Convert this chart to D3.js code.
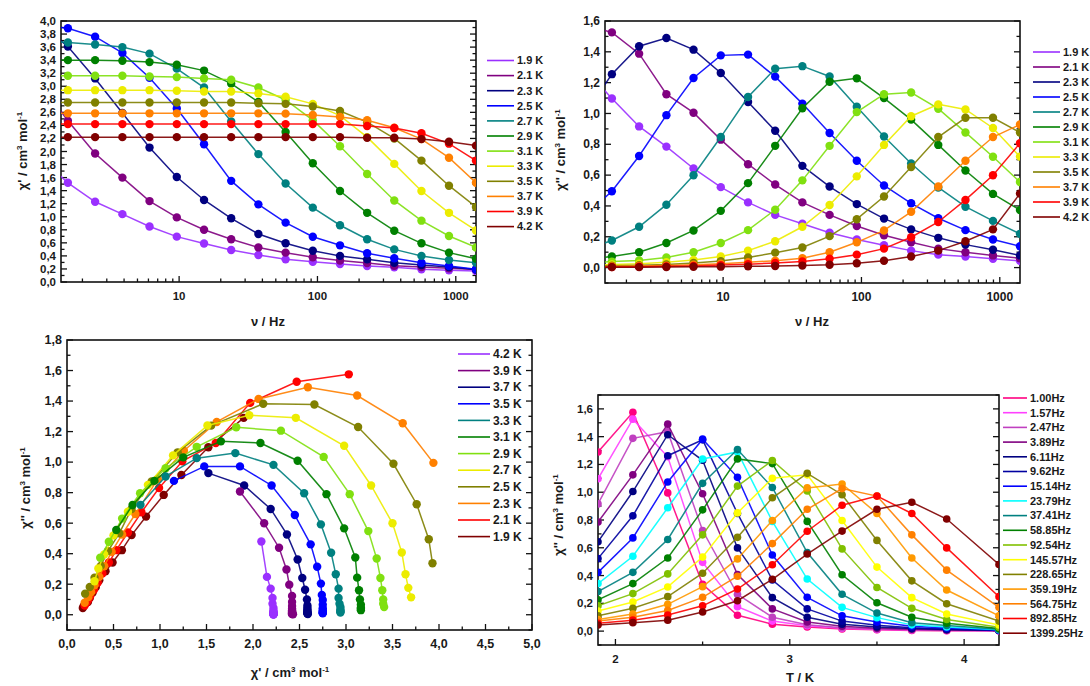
<!DOCTYPE html>
<html><head><meta charset="utf-8">
<script src="https://cdn.jsdelivr.net/npm/d3@7"></script>
<style>
body{margin:0;background:#fff;}
svg text{font-family:"Liberation Sans",Arial,sans-serif;font-weight:bold;fill:#1a1a1a;}
</style></head><body>
<svg id="fig" width="1090" height="686"></svg>
<script>
// Measurement temperatures and ac frequencies
const tempLabels = ["1.9 K","2.1 K","2.3 K","2.5 K","2.7 K","2.9 K","3.1 K","3.3 K","3.5 K","3.7 K","3.9 K","4.2 K"];
const temps = [1.9, 2.1, 2.3, 2.5, 2.7, 2.9, 3.1, 3.3, 3.5, 3.7, 3.9, 4.2];
const freqs = [1.00, 1.57, 2.47, 3.89, 6.11, 9.62, 15.14, 23.79, 37.41, 58.85, 92.54, 145.57, 228.65, 359.19, 564.75, 892.85, 1399.25];
const freqLabels = ["1.00Hz","1.57Hz","2.47Hz","3.89Hz","6.11Hz","9.62Hz","15.14Hz","23.79Hz","37.41Hz","58.85Hz","92.54Hz","145.57Hz","228.65Hz","359.19Hz","564.75Hz","892.85Hz","1399.25Hz"];

// In-phase susceptibility chi' (cm3 mol-1), one row per temperature, one value per frequency
const chiReal = [
  [1.90, 1.52, 1.23, 1.04, 0.85, 0.695, 0.59, 0.49, 0.414, 0.347, 0.31, 0.276, 0.245, 0.225, 0.195, 0.18, 0.17],
  [3.03, 2.47, 1.97, 1.60, 1.24, 0.99, 0.80, 0.655, 0.53, 0.45, 0.38, 0.33, 0.29, 0.25, 0.23, 0.21, 0.19],
  [3.94, 3.61, 3.12, 2.59, 2.06, 1.61, 1.257, 0.976, 0.735, 0.593, 0.48, 0.40, 0.347, 0.296, 0.26, 0.23, 0.19],
  [3.93, 3.89, 3.76, 3.51, 3.13, 2.66, 2.11, 1.55, 1.19, 0.91, 0.694, 0.562, 0.44, 0.363, 0.296, 0.245, 0.195],
  [3.70, 3.67, 3.64, 3.60, 3.50, 3.27, 2.98, 2.46, 1.96, 1.51, 1.14, 0.87, 0.655, 0.50, 0.40, 0.337, 0.296],
  [3.41, 3.40, 3.40, 3.39, 3.37, 3.33, 3.24, 3.04, 2.76, 2.30, 1.82, 1.395, 1.06, 0.786, 0.593, 0.45, 0.357],
  [3.16, 3.16, 3.16, 3.16, 3.15, 3.14, 3.12, 3.10, 2.98, 2.79, 2.48, 2.08, 1.655, 1.25, 0.94, 0.705, 0.53],
  [2.94, 2.94, 2.94, 2.94, 2.94, 2.93, 2.92, 2.92, 2.89, 2.84, 2.73, 2.55, 2.22, 1.81, 1.395, 1.06, 0.79],
  [2.75, 2.75, 2.75, 2.75, 2.75, 2.75, 2.75, 2.75, 2.74, 2.73, 2.69, 2.62, 2.45, 2.20, 1.86, 1.476, 1.15],
  [2.59, 2.585, 2.585, 2.585, 2.585, 2.585, 2.585, 2.585, 2.585, 2.58, 2.56, 2.53, 2.48, 2.365, 2.19, 1.905, 1.52],
  [2.43, 2.42, 2.42, 2.42, 2.42, 2.42, 2.42, 2.42, 2.42, 2.42, 2.42, 2.42, 2.39, 2.36, 2.28, 2.12, 1.86],
  [2.22, 2.22, 2.22, 2.22, 2.22, 2.22, 2.22, 2.22, 2.22, 2.22, 2.22, 2.22, 2.21, 2.21, 2.19, 2.15, 2.09]
];

// Out-of-phase susceptibility chi'' (cm3 mol-1)
const chiImag = [
  [1.29, 1.097, 0.916, 0.785, 0.643, 0.522, 0.423, 0.342, 0.285, 0.226, 0.182, 0.145, 0.11, 0.084, 0.072, 0.057, 0.044],
  [1.575, 1.526, 1.388, 1.125, 1.005, 0.83, 0.671, 0.539, 0.423, 0.342, 0.27, 0.21, 0.164, 0.123, 0.10, 0.079, 0.061],
  [0.995, 1.255, 1.436, 1.49, 1.414, 1.263, 1.074, 0.888, 0.66, 0.526, 0.412, 0.318, 0.248, 0.193, 0.149, 0.116, 0.079],
  [0.337, 0.495, 0.724, 0.989, 1.23, 1.377, 1.382, 1.239, 1.064, 0.873, 0.693, 0.533, 0.417, 0.32, 0.243, 0.182, 0.138],
  [0.114, 0.176, 0.265, 0.408, 0.599, 0.847, 1.107, 1.29, 1.307, 1.24, 1.044, 0.851, 0.675, 0.52, 0.395, 0.303, 0.219],
  [0.05, 0.072, 0.10, 0.16, 0.241, 0.368, 0.548, 0.79, 1.034, 1.206, 1.228, 1.10, 0.96, 0.796, 0.63, 0.478, 0.373],
  [0.03, 0.039, 0.046, 0.066, 0.10, 0.16, 0.243, 0.375, 0.566, 0.79, 1.009, 1.125, 1.136, 1.031, 0.877, 0.719, 0.555],
  [0.015, 0.02, 0.025, 0.035, 0.05, 0.072, 0.11, 0.171, 0.265, 0.406, 0.592, 0.796, 0.982, 1.059, 1.026, 0.906, 0.72],
  [0.01, 0.012, 0.015, 0.02, 0.03, 0.042, 0.065, 0.097, 0.13, 0.204, 0.314, 0.461, 0.653, 0.847, 0.972, 0.972, 0.877],
  [0.005, 0.008, 0.01, 0.013, 0.018, 0.025, 0.035, 0.045, 0.061, 0.10, 0.164, 0.241, 0.362, 0.526, 0.693, 0.847, 0.928],
  [0.003, 0.004, 0.006, 0.008, 0.011, 0.016, 0.022, 0.03, 0.04, 0.057, 0.084, 0.123, 0.197, 0.296, 0.439, 0.599, 0.807],
  [0.002, 0.003, 0.003, 0.004, 0.005, 0.006, 0.008, 0.01, 0.013, 0.018, 0.028, 0.044, 0.072, 0.11, 0.171, 0.248, 0.48]
];

// Series colours (1.9 K ... 4.2 K)
const tempColors = ["#9a30ff","#800080","#000080","#0000ff","#008080","#008000","#80e010","#ecec00","#808000","#ff8000","#ff0000","#800000"];
// Cole-Cole panel: legend runs from 4.2 K down to 1.9 K with the palette in the same order
const coleLegend = ["4.2 K","3.9 K","3.7 K","3.5 K","3.3 K","3.1 K","2.9 K","2.7 K","2.5 K","2.3 K","2.1 K","1.9 K"];
const coleColors = tempColors;
const freqColors = ["#ff0080","#ff40ff","#c040c0","#800080","#000080","#0000a0","#0000ff","#00ffff","#008080","#008000","#80c000","#ffff00","#808000","#ff9900","#ff8000","#ff0000","#800000"];

const svg = d3.select("#fig");
const comma = v => d3.format(".1f")(v).replace(".", ",");
let clipId = 0;

function frame(p) {
  const g = svg.append("g");
  const id = "clip" + (clipId++);
  svg.append("clipPath").attr("id", id).append("rect")
    .attr("x", p.x0).attr("y", p.y0).attr("width", p.x1 - p.x0).attr("height", p.y1 - p.y0);
  p.clip = "url(#" + id + ")";
  // inward ticks on left, right and bottom
  const tk = (x1, y1, x2, y2) => g.append("line").attr("x1", x1).attr("y1", y1).attr("x2", x2).attr("y2", y2)
    .attr("stroke", "#111").attr("stroke-width", 1.3);
  p.yMinor.forEach(v => { const y = p.y(v); tk(p.x0, y, p.x0 + 3.5, y); tk(p.x1, y, p.x1 - 3.5, y); });
  p.yMajor.forEach(v => { const y = p.y(v); tk(p.x0, y, p.x0 + 6, y); tk(p.x1, y, p.x1 - 6, y);
    g.append("text").attr("x", p.x0 - 5).attr("y", y).attr("dy", "0.35em").attr("text-anchor", "end")
      .attr("font-size", p.fs || 12).text(comma(v)); });
  p.xMinor.forEach(v => { const x = p.x(v); tk(x, p.y1, x, p.y1 - 3.5); });
  p.xMajor.forEach(v => { const x = p.x(v); tk(x, p.y1, x, p.y1 - 6);
    g.append("text").attr("x", x).attr("y", p.y1 + 18).attr("text-anchor", "middle")
      .attr("font-size", p.fs || 12).text(p.xFmt(v)); });
  g.append("rect").attr("x", p.x0).attr("y", p.y0).attr("width", p.x1 - p.x0).attr("height", p.y1 - p.y0)
    .attr("fill", "none").attr("stroke", "#111").attr("stroke-width", 1.6);
}

function chiTitle(x, y, primes, rotate) {
  const t = svg.append("text").attr("font-size", 13)
    .attr("transform", `translate(${x},${y})` + (rotate ? " rotate(-90)" : "")).attr("text-anchor", "middle");
  t.append("tspan").text("χ" + primes + " / cm");
  t.append("tspan").attr("dy", -5).attr("font-size", 8).text("3");
  t.append("tspan").attr("dy", 5).text(" mol");
  t.append("tspan").attr("dy", -5).attr("font-size", 8).text("-1");
}

function legend(x, y0, step, labels, colors, len, fs) {
  labels.forEach((lab, i) => {
    const y = y0 + i * step;
    svg.append("line").attr("x1", x).attr("x2", x + len).attr("y1", y).attr("y2", y)
      .attr("stroke", colors[i]).attr("stroke-width", 1.6);
    svg.append("text").attr("x", x + len + 3).attr("y", y).attr("dy", "0.35em")
      .attr("font-size", fs).text(lab);
  });
}

function series(p, pts, color, r) {
  const g = svg.append("g").attr("clip-path", p.clip);
  g.append("path").datum(pts)
    .attr("d", d3.line().x(d => p.x(d[0])).y(d => p.y(d[1])))
    .attr("fill", "none").attr("stroke", color).attr("stroke-width", 1.5).attr("stroke-opacity", 0.9);
  g.selectAll("circle").data(pts.filter(d => p.inX(d[0]))).join("circle")
    .attr("cx", d => p.x(d[0])).attr("cy", d => p.y(d[1])).attr("r", r).attr("fill", color);
}

const logMinor = [];
[1, 10, 100, 1000].forEach(dec => d3.range(1, 10).forEach(k => {
  const v = dec * k; if (v >= 1.4 && v <= 1400 && k !== 1) logMinor.push(v);
}));
const fmtLog = v => String(v);
const step = (a, b, s) => d3.range(Math.round((b - a) / s) + 1).map(i => +(a + i * s).toFixed(3));

// Panel a: chi' versus frequency
const pA = { x0: 61, x1: 476, y0: 21, y1: 282 };
pA.x = d3.scaleLog().domain([1.4, 1400]).range([pA.x0, pA.x1]);
pA.y = d3.scaleLinear().domain([0, 4]).range([pA.y1, pA.y0]);
pA.inX = v => v >= 1.4;
Object.assign(pA, { xMajor: [10, 100, 1000], xMinor: logMinor, xFmt: fmtLog,
  yMajor: step(0, 4, 0.2), yMinor: step(0.1, 3.9, 0.2), fs: 11.5 });
frame(pA);
temps.forEach((t, i) => series(pA, freqs.map((f, j) => [f, chiReal[i][j]]), tempColors[i], 4.2));
legend(487, 60.5, 15.1, tempLabels, tempColors, 27, 11);
chiTitle(27, 151, "'", true);
svg.append("text").attr("x", 268).attr("y", 326).attr("text-anchor", "middle").attr("font-size", 13).text("ν / Hz");

// Panel b: chi'' versus frequency
const pB = { x0: 605, x1: 1020, y0: 21, y1: 283 };
pB.x = d3.scaleLog().domain([1.4, 1400]).range([pB.x0, pB.x1]);
pB.y = d3.scaleLinear().domain([-0.1, 1.6]).range([pB.y1, pB.y0]);
pB.inX = v => v >= 1.4;
Object.assign(pB, { xMajor: [10, 100, 1000], xMinor: logMinor, xFmt: fmtLog,
  yMajor: step(0, 1.6, 0.2), yMinor: step(-0.1, 1.5, 0.2), fs: 12 });
frame(pB);
temps.forEach((t, i) => series(pB, freqs.map((f, j) => [f, chiImag[i][j]]), tempColors[i], 4.2));
legend(1033, 52, 15, tempLabels, tempColors, 27, 11);
chiTitle(565, 150, "''", true);
svg.append("text").attr("x", 812).attr("y", 326).attr("text-anchor", "middle").attr("font-size", 13).text("ν / Hz");

// Panel c: Cole-Cole plot chi'' versus chi'
const pC = { x0: 67, x1: 532, y0: 340, y1: 630 };
pC.x = d3.scaleLinear().domain([0, 5]).range([pC.x0, pC.x1]);
pC.y = d3.scaleLinear().domain([-0.1, 1.8]).range([pC.y1, pC.y0]);
pC.inX = v => true;
Object.assign(pC, { xMajor: step(0, 5, 0.5), xMinor: step(0.25, 4.75, 0.5), xFmt: comma,
  yMajor: step(0, 1.8, 0.2), yMinor: step(-0.1, 1.7, 0.2), fs: 12.5 });
frame(pC);
temps.forEach((t, i) => {
  const c = coleColors[coleLegend.indexOf(tempLabels[i])];
  series(pC, freqs.map((f, j) => [chiReal[i][j], chiImag[i][j]]), c, 4.2);
});
legend(458, 354, 16.6, coleLegend, coleColors, 32, 12);
chiTitle(30, 488, "''", true);
chiTitle(290, 677, "'", false);

// Panel d: chi'' versus temperature at each frequency
const pD = { x0: 598, x1: 999, y0: 395, y1: 645 };
pD.x = d3.scaleLinear().domain([1.9, 4.2]).range([pD.x0, pD.x1]);
pD.y = d3.scaleLinear().domain([-0.1, 1.7]).range([pD.y1, pD.y0]);
pD.inX = v => true;
Object.assign(pD, { xMajor: [2, 3, 4], xMinor: [2.5, 3.5], xFmt: v => String(v),
  yMajor: step(0, 1.6, 0.2), yMinor: step(-0.1, 1.7, 0.2), fs: 11.5 });
frame(pD);
freqs.forEach((f, j) => series(pD, temps.map((t, i) => [t, chiImag[i][j]]), freqColors[j], 3.8));
legend(1003, 398, 14.7, freqLabels, freqColors, 24, 11);
chiTitle(563, 515, "''", true);
svg.append("text").attr("x", 800).attr("y", 682).attr("text-anchor", "middle").attr("font-size", 13).text("T / K");
</script></body></html>
